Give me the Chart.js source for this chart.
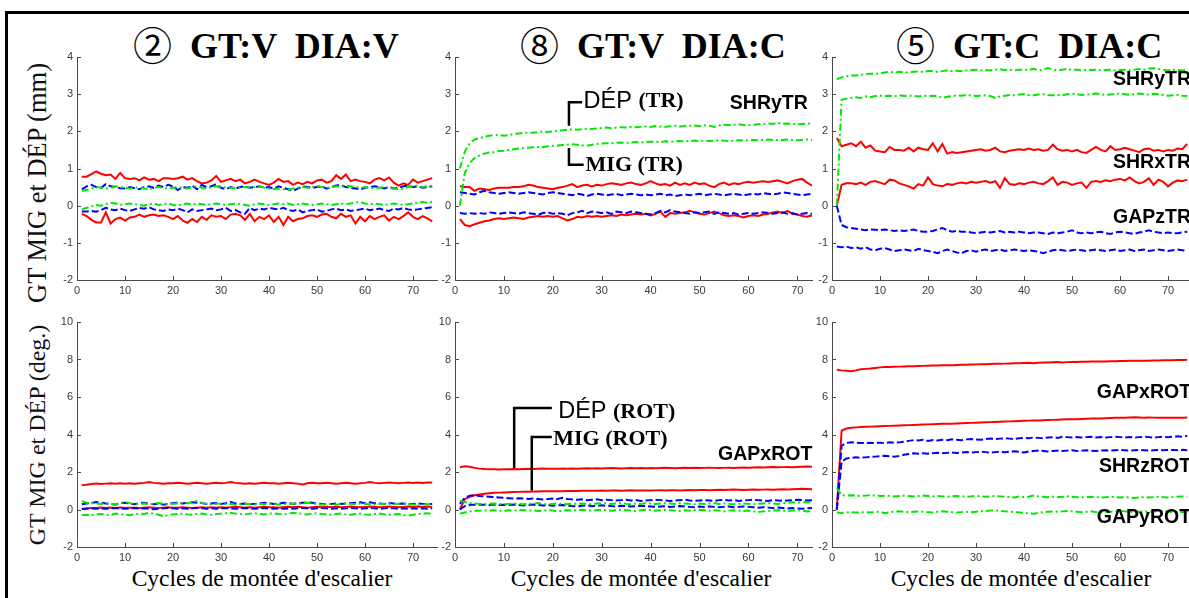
<!DOCTYPE html>
<html>
<head>
<meta charset="utf-8">
<script src="https://cdn.jsdelivr.net/npm/chart.js@4.4.1/dist/chart.umd.min.js"></script>
<style>
  body { margin:0; width:1189px; height:598px; overflow:hidden; background:#fff; position:relative; }
  .frame { position:absolute; left:5px; top:11px; width:1300px; height:700px; border-left:3px solid #000; border-top:3px solid #000; }
  canvas { position:absolute; }
  .title { position:absolute; font:bold 36px "Liberation Serif", "Times New Roman", serif; line-height:36px; white-space:pre; color:#000; }
  .title .circ { display:inline-block; width:57px; font-weight:normal; font-family:"Noto Sans CJK JP", "DejaVu Sans", sans-serif; font-size:39px; vertical-align:-2px; }
  .xlab { position:absolute; transform:translateX(-50%); font:23.5px "Liberation Serif", "Times New Roman", serif; line-height:23.5px; white-space:pre; color:#000; }
  .ylab { position:absolute; transform:translate(-50%,-50%) rotate(-90deg); font:26.5px "Liberation Serif", "Times New Roman", serif; line-height:26px; white-space:pre; color:#111; }
</style>
</head>
<body>
<div class="frame"></div>
<div class="title" style="left:133px; top:25px;"><span class="circ">②</span>GT:V  DIA:V</div>
<div class="title" style="left:520px; top:25px;"><span class="circ">⑧</span>GT:V  DIA:C</div>
<div class="title" style="left:896px; top:25px;"><span class="circ">⑤</span>GT:C  DIA:C</div>
<div class="ylab" style="left:37px; top:183px;">GT MIG et DÉP (mm)</div>
<div class="ylab" style="left:37px; top:435px; font-size:24px;">GT MIG et DÉP (deg.)</div>
<div class="xlab" style="left:262px; top:567px;">Cycles de montée d'escalier</div>
<div class="xlab" style="left:641px; top:567px;">Cycles de montée d'escalier</div>
<div class="xlab" style="left:1021px; top:567px;">Cycles de montée d'escalier</div>

<script>
// stair-climbing cycles 1..74
const cycles = Array.from({length: 74}, (_, i) => i + 1);
const xTicks = [0, 10, 20, 30, 40, 50, 60, 70];
const yTicksTR = [-2, -1, 0, 1, 2, 3, 4];
const yTicksROT = [-2, 0, 2, 4, 6, 8, 10];

// ---- panel 2 (GT:V DIA:V), translations (mm)
const vvTrRedA = [0.78,0.78,0.85,0.92,0.86,0.82,0.84,0.72,0.88,0.74,
  0.72,0.74,0.68,0.76,0.70,0.72,0.66,0.74,0.74,0.72,
  0.74,0.78,0.70,0.74,0.66,0.60,0.62,0.68,0.80,0.64,
  0.68,0.72,0.66,0.70,0.60,0.64,0.70,0.64,0.60,0.56,
  0.62,0.72,0.64,0.66,0.56,0.62,0.58,0.64,0.60,0.68,
  0.70,0.62,0.66,0.82,0.72,0.84,0.66,0.70,0.66,0.64,
  0.60,0.70,0.74,0.68,0.76,0.62,0.54,0.60,0.56,0.70,
  0.62,0.66,0.70,0.74];
const vvTrRedB = [-0.22,-0.28,-0.38,-0.45,-0.45,-0.18,-0.48,-0.36,-0.32,-0.40,
  -0.32,-0.30,-0.24,-0.30,-0.26,-0.24,-0.28,-0.26,-0.30,-0.36,
  -0.28,-0.40,-0.46,-0.36,-0.44,-0.30,-0.38,-0.26,-0.30,-0.28,
  -0.36,-0.24,-0.22,-0.26,-0.38,-0.22,-0.42,-0.30,-0.36,-0.26,
  -0.44,-0.30,-0.52,-0.30,-0.42,-0.36,-0.34,-0.28,-0.26,-0.30,
  -0.24,-0.22,-0.30,-0.34,-0.22,-0.30,-0.26,-0.48,-0.30,-0.42,
  -0.28,-0.36,-0.30,-0.26,-0.40,-0.30,-0.36,-0.28,-0.18,-0.30,
  -0.36,-0.28,-0.34,-0.42];
const vvTrBlueA = [0.44,0.52,0.56,0.50,0.48,0.58,0.52,0.50,0.47,0.46,
  0.50,0.47,0.44,0.50,0.52,0.48,0.54,0.50,0.56,0.52,
  0.42,0.50,0.48,0.54,0.44,0.56,0.50,0.52,0.58,0.48,
  0.44,0.50,0.46,0.50,0.52,0.48,0.50,0.52,0.48,0.50,
  0.46,0.52,0.48,0.44,0.40,0.46,0.52,0.50,0.48,0.50,
  0.52,0.46,0.50,0.54,0.56,0.50,0.48,0.46,0.44,0.48,
  0.50,0.52,0.50,0.46,0.50,0.46,0.48,0.52,0.54,0.50,
  0.52,0.48,0.50,0.52];
const vvTrBlueB = [-0.16,-0.16,-0.14,-0.16,-0.12,-0.06,-0.10,-0.12,-0.08,-0.12,
  -0.14,-0.10,-0.06,-0.08,-0.04,-0.10,-0.12,-0.14,-0.10,-0.12,
  -0.08,-0.12,-0.18,-0.10,-0.14,-0.12,-0.10,-0.08,-0.12,-0.10,
  -0.06,-0.14,-0.12,-0.18,-0.22,-0.06,-0.12,-0.08,-0.10,-0.06,
  -0.08,-0.10,-0.06,-0.12,-0.14,-0.10,-0.18,-0.14,-0.12,-0.10,
  -0.16,-0.14,-0.10,-0.08,-0.12,-0.10,-0.14,-0.12,-0.10,-0.08,
  -0.12,-0.10,-0.08,-0.12,-0.14,-0.08,-0.10,-0.06,-0.10,-0.12,
  -0.10,-0.08,-0.06,-0.04];
const vvTrGreenA = [0.40,0.42,0.46,0.50,0.48,0.46,0.48,0.52,0.50,0.48,
  0.46,0.48,0.50,0.46,0.44,0.48,0.50,0.48,0.46,0.48,
  0.50,0.48,0.46,0.50,0.52,0.48,0.46,0.50,0.52,0.48,
  0.50,0.48,0.46,0.48,0.50,0.48,0.50,0.52,0.48,0.46,
  0.44,0.46,0.44,0.42,0.46,0.48,0.50,0.48,0.50,0.52,
  0.50,0.48,0.50,0.52,0.50,0.54,0.52,0.50,0.48,0.50,
  0.48,0.46,0.48,0.50,0.48,0.46,0.44,0.46,0.50,0.52,
  0.54,0.50,0.52,0.50];
const vvTrGreenB = [-0.10,-0.06,-0.02,0.02,0.00,0.04,0.08,0.06,0.02,0.04,
  0.06,0.04,0.02,0.00,0.04,0.06,0.02,0.04,0.06,0.02,
  0.00,0.04,0.06,0.02,0.06,0.04,0.02,0.04,0.06,0.04,
  0.02,0.04,0.06,0.04,0.02,0.00,0.04,0.06,0.04,0.02,
  0.04,0.06,0.04,0.06,0.02,0.04,0.06,0.04,0.02,0.04,
  0.06,0.04,0.02,0.04,0.06,0.04,0.06,0.08,0.10,0.06,
  0.04,0.06,0.04,0.02,0.04,0.06,0.04,0.02,0.04,0.06,
  0.08,0.10,0.08,0.10];

// ---- panel 8 (GT:V DIA:C), translations (mm)
const vcTrRedA = [0.52,0.50,0.50,0.40,0.46,0.44,0.42,0.46,0.48,0.48,
  0.48,0.50,0.50,0.52,0.56,0.54,0.50,0.48,0.46,0.44,
  0.48,0.50,0.54,0.58,0.50,0.54,0.56,0.52,0.56,0.54,
  0.58,0.60,0.58,0.56,0.60,0.62,0.58,0.56,0.60,0.66,
  0.60,0.56,0.58,0.54,0.62,0.56,0.60,0.56,0.62,0.58,
  0.60,0.54,0.50,0.58,0.62,0.56,0.60,0.58,0.62,0.64,
  0.62,0.64,0.66,0.64,0.66,0.68,0.64,0.60,0.66,0.70,
  0.72,0.62,0.54,0.58];
const vcTrRedB = [-0.36,-0.52,-0.55,-0.50,-0.46,-0.42,-0.40,-0.36,-0.34,-0.36,
  -0.34,-0.32,-0.34,-0.36,-0.32,-0.30,-0.28,-0.30,-0.28,-0.30,
  -0.28,-0.34,-0.40,-0.36,-0.30,-0.32,-0.28,-0.30,-0.28,-0.30,
  -0.28,-0.26,-0.28,-0.24,-0.26,-0.24,-0.22,-0.24,-0.22,-0.26,
  -0.22,-0.16,-0.30,-0.20,-0.22,-0.20,-0.18,-0.14,-0.18,-0.22,
  -0.24,-0.20,-0.16,-0.20,-0.26,-0.28,-0.26,-0.28,-0.32,-0.28,
  -0.26,-0.28,-0.24,-0.22,-0.18,-0.16,-0.20,-0.14,-0.22,-0.24,
  -0.28,-0.30,-0.26,-0.24];
const vcTrBlueA = [0.36,0.34,0.32,0.30,0.36,0.40,0.36,0.34,0.32,0.34,
  0.36,0.34,0.32,0.34,0.36,0.34,0.32,0.30,0.34,0.36,
  0.34,0.32,0.30,0.28,0.32,0.30,0.26,0.30,0.32,0.30,
  0.28,0.30,0.32,0.28,0.30,0.32,0.30,0.28,0.30,0.28,
  0.30,0.32,0.28,0.30,0.26,0.28,0.30,0.28,0.30,0.32,
  0.28,0.30,0.32,0.30,0.28,0.30,0.32,0.30,0.28,0.30,
  0.32,0.30,0.34,0.32,0.30,0.32,0.36,0.34,0.32,0.30,
  0.28,0.30,0.32,0.30];
const vcTrBlueB = [-0.20,-0.22,-0.20,-0.22,-0.20,-0.22,-0.18,-0.20,-0.22,-0.20,
  -0.18,-0.20,-0.22,-0.18,-0.20,-0.22,-0.24,-0.20,-0.18,-0.22,
  -0.20,-0.22,-0.26,-0.20,-0.18,-0.14,-0.20,-0.16,-0.18,-0.20,
  -0.18,-0.22,-0.16,-0.18,-0.20,-0.16,-0.18,-0.20,-0.22,-0.24,
  -0.20,-0.14,-0.18,-0.12,-0.16,-0.18,-0.20,-0.22,-0.18,-0.20,
  -0.18,-0.16,-0.22,-0.18,-0.20,-0.22,-0.20,-0.24,-0.22,-0.20,
  -0.22,-0.20,-0.18,-0.20,-0.22,-0.20,-0.18,-0.22,-0.20,-0.24,
  -0.22,-0.20,-0.22,-0.20];
const vcTrGreenA = [1.00,1.45,1.68,1.78,1.82,1.85,1.88,1.90,1.90,1.88,
  1.90,1.93,1.94,1.96,1.97,1.96,1.98,2.00,1.98,2.00,
  2.02,2.03,2.04,2.06,2.04,2.06,2.07,2.06,2.08,2.09,
  2.10,2.08,2.10,2.11,2.10,2.12,2.11,2.12,2.13,2.12,
  2.14,2.13,2.12,2.14,2.15,2.13,2.14,2.15,2.16,2.14,
  2.16,2.15,2.12,2.16,2.18,2.17,2.18,2.19,2.17,2.16,
  2.18,2.19,2.20,2.21,2.20,2.23,2.20,2.21,2.20,2.19,
  2.20,2.21,2.20,2.19];
const vcTrGreenB = [0.00,0.88,1.15,1.28,1.35,1.40,1.43,1.44,1.47,1.48,
  1.50,1.52,1.54,1.55,1.56,1.57,1.58,1.58,1.60,1.61,
  1.62,1.63,1.64,1.65,1.64,1.62,1.61,1.64,1.66,1.67,
  1.68,1.68,1.69,1.70,1.69,1.70,1.71,1.70,1.71,1.72,
  1.72,1.71,1.73,1.72,1.73,1.74,1.73,1.74,1.75,1.74,
  1.75,1.74,1.75,1.76,1.75,1.74,1.75,1.76,1.75,1.76,
  1.77,1.76,1.77,1.78,1.77,1.76,1.77,1.78,1.77,1.76,
  1.77,1.78,1.77,1.78];

// ---- panel 5 (GT:C DIA:C), translations (mm)
const ccTrRedA = [1.82,1.60,1.64,1.68,1.60,1.72,1.56,1.62,1.48,1.46,
  1.44,1.58,1.50,1.50,1.48,1.56,1.46,1.56,1.52,1.50,
  1.68,1.46,1.66,1.40,1.44,1.42,1.44,1.46,1.48,1.50,
  1.52,1.48,1.50,1.56,1.46,1.44,1.48,1.50,1.52,1.50,
  1.54,1.50,1.52,1.48,1.50,1.64,1.52,1.48,1.50,1.46,
  1.50,1.44,1.42,1.50,1.58,1.50,1.46,1.60,1.50,1.52,
  1.56,1.52,1.48,1.44,1.52,1.54,1.48,1.50,1.46,1.50,
  1.48,1.54,1.52,1.66];
const ccTrRedB = [0.00,0.56,0.60,0.60,0.58,0.62,0.56,0.64,0.66,0.62,
  0.58,0.70,0.68,0.60,0.56,0.52,0.46,0.58,0.54,0.76,
  0.58,0.54,0.52,0.58,0.56,0.60,0.62,0.60,0.64,0.62,
  0.64,0.66,0.62,0.66,0.48,0.74,0.58,0.56,0.60,0.58,
  0.62,0.64,0.60,0.58,0.66,0.76,0.56,0.64,0.62,0.56,
  0.60,0.62,0.48,0.64,0.66,0.64,0.68,0.66,0.70,0.72,
  0.68,0.76,0.66,0.60,0.64,0.74,0.56,0.70,0.64,0.52,
  0.62,0.68,0.66,0.70];
const ccTrBlueA = [0.00,-0.52,-0.58,-0.60,-0.62,-0.64,-0.66,-0.64,-0.65,-0.66,
  -0.64,-0.66,-0.68,-0.66,-0.68,-0.66,-0.64,-0.68,-0.70,-0.70,
  -0.68,-0.64,-0.60,-0.66,-0.70,-0.68,-0.70,-0.70,-0.72,-0.74,
  -0.72,-0.70,-0.72,-0.70,-0.68,-0.72,-0.70,-0.72,-0.70,-0.72,
  -0.74,-0.72,-0.72,-0.74,-0.76,-0.72,-0.74,-0.72,-0.70,-0.66,
  -0.72,-0.74,-0.72,-0.74,-0.72,-0.70,-0.74,-0.76,-0.72,-0.70,
  -0.72,-0.74,-0.76,-0.72,-0.70,-0.66,-0.70,-0.72,-0.74,-0.72,
  -0.74,-0.74,-0.72,-0.70];
const ccTrBlueB = [-1.10,-1.12,-1.10,-1.14,-1.12,-1.16,-1.12,-1.18,-1.20,-1.16,
  -1.14,-1.18,-1.22,-1.20,-1.18,-1.20,-1.22,-1.16,-1.20,-1.22,
  -1.24,-1.28,-1.22,-1.18,-1.22,-1.26,-1.28,-1.22,-1.20,-1.24,
  -1.20,-1.18,-1.22,-1.20,-1.18,-1.22,-1.20,-1.18,-1.20,-1.22,
  -1.20,-1.22,-1.24,-1.28,-1.24,-1.20,-1.18,-1.20,-1.22,-1.20,
  -1.18,-1.20,-1.22,-1.20,-1.18,-1.20,-1.22,-1.20,-1.18,-1.22,
  -1.20,-1.18,-1.22,-1.20,-1.18,-1.22,-1.20,-1.18,-1.20,-1.22,
  -1.20,-1.18,-1.20,-1.22];
const ccTrGreenA = [3.40,3.45,3.48,3.50,3.50,3.52,3.54,3.55,3.55,3.56,
  3.58,3.60,3.58,3.60,3.59,3.58,3.60,3.61,3.60,3.62,
  3.62,3.60,3.62,3.64,3.62,3.63,3.62,3.64,3.65,3.66,
  3.64,3.65,3.64,3.66,3.67,3.65,3.66,3.64,3.66,3.65,
  3.66,3.68,3.64,3.66,3.70,3.66,3.65,3.66,3.68,3.65,
  3.66,3.64,3.66,3.65,3.66,3.64,3.65,3.66,3.64,3.65,
  3.66,3.64,3.66,3.68,3.66,3.69,3.70,3.68,3.66,3.64,
  3.66,3.65,3.64,3.66];
const ccTrGreenB = [0.00,2.85,2.88,2.90,2.92,2.90,2.94,2.92,2.95,2.96,
  2.95,2.96,2.94,2.97,2.95,2.96,2.95,2.94,2.96,2.95,
  2.96,2.95,2.90,2.93,2.95,2.97,2.96,2.98,2.96,2.95,
  2.96,2.97,2.95,2.90,2.94,2.96,2.98,2.97,2.99,3.00,
  2.98,2.97,2.99,3.00,2.98,2.97,2.98,2.97,3.00,3.01,
  3.00,2.98,2.99,3.00,3.02,3.00,2.98,2.99,3.00,3.02,
  3.00,2.98,3.00,3.02,3.00,2.99,3.01,3.00,2.98,2.96,
  2.97,2.98,2.96,2.95];

// ---- panel 2 (GT:V DIA:V), rotations (deg)
const vvRotRedA = [1.30,1.32,1.36,1.38,1.36,1.38,1.40,1.38,1.40,1.38,
  1.40,1.38,1.40,1.42,1.46,1.42,1.40,1.38,1.40,1.40,
  1.42,1.40,1.38,1.40,1.42,1.40,1.38,1.40,1.42,1.40,
  1.42,1.46,1.42,1.40,1.38,1.40,1.38,1.40,1.42,1.40,
  1.40,1.38,1.40,1.42,1.40,1.38,1.34,1.40,1.42,1.40,
  1.40,1.42,1.40,1.38,1.40,1.42,1.40,1.38,1.40,1.42,
  1.46,1.42,1.40,1.42,1.44,1.42,1.40,1.42,1.44,1.42,
  1.44,1.42,1.44,1.44];
const vvRotRedB = [0.04,0.06,0.08,0.08,0.10,0.08,0.10,0.08,0.10,0.08,
  0.10,0.10,0.08,0.10,0.12,0.10,0.08,0.10,0.12,0.10,
  0.10,0.12,0.10,0.08,0.10,0.12,0.10,0.12,0.10,0.12,
  0.10,0.12,0.14,0.12,0.10,0.12,0.10,0.12,0.14,0.12,
  0.12,0.10,0.12,0.14,0.12,0.14,0.12,0.10,0.12,0.14,
  0.12,0.14,0.12,0.14,0.12,0.14,0.16,0.14,0.12,0.14,
  0.16,0.14,0.12,0.14,0.16,0.14,0.12,0.14,0.16,0.14,
  0.16,0.14,0.16,0.14];
const vvRotBlueA = [0.28,0.32,0.34,0.40,0.36,0.32,0.30,0.26,0.34,0.36,
  0.32,0.28,0.34,0.36,0.30,0.28,0.32,0.26,0.30,0.34,
  0.36,0.32,0.36,0.38,0.36,0.34,0.30,0.32,0.34,0.30,
  0.34,0.40,0.32,0.30,0.32,0.28,0.30,0.32,0.36,0.34,
  0.30,0.32,0.36,0.34,0.30,0.34,0.36,0.38,0.36,0.32,
  0.30,0.28,0.30,0.32,0.30,0.32,0.34,0.36,0.38,0.34,
  0.38,0.34,0.32,0.30,0.34,0.32,0.30,0.32,0.28,0.30,
  0.32,0.30,0.28,0.30];
const vvRotBlueB = [0.02,0.04,0.06,0.04,0.06,0.04,0.06,0.08,0.06,0.04,
  0.06,0.08,0.04,0.06,0.04,0.02,0.04,0.06,0.08,0.06,
  0.04,0.06,0.04,0.06,0.08,0.06,0.04,0.06,0.04,0.06,
  0.08,0.06,0.04,0.06,0.08,0.06,0.04,0.06,0.08,0.06,
  0.04,0.06,0.04,0.06,0.04,0.06,0.08,0.06,0.04,0.06,
  0.08,0.06,0.04,0.06,0.04,0.06,0.08,0.06,0.04,0.06,
  0.08,0.06,0.04,0.06,0.08,0.06,0.04,0.06,0.04,0.06,
  0.04,0.06,0.04,0.06];
const vvRotGreenA = [0.44,0.36,0.34,0.32,0.30,0.34,0.30,0.28,0.32,0.40,
  0.34,0.28,0.30,0.32,0.28,0.30,0.34,0.30,0.26,0.30,
  0.32,0.36,0.34,0.38,0.46,0.34,0.30,0.28,0.30,0.32,
  0.28,0.30,0.26,0.28,0.30,0.28,0.26,0.30,0.28,0.32,
  0.30,0.26,0.28,0.30,0.32,0.30,0.34,0.36,0.32,0.28,
  0.26,0.28,0.30,0.26,0.28,0.32,0.30,0.28,0.32,0.30,
  0.28,0.26,0.30,0.28,0.32,0.28,0.30,0.32,0.28,0.26,
  0.24,0.26,0.28,0.30];
const vvRotGreenB = [-0.30,-0.28,-0.30,-0.26,-0.24,-0.28,-0.30,-0.22,-0.26,-0.28,
  -0.30,-0.26,-0.22,-0.24,-0.18,-0.22,-0.28,-0.36,-0.30,-0.26,
  -0.24,-0.22,-0.26,-0.28,-0.24,-0.22,-0.26,-0.28,-0.24,-0.22,
  -0.20,-0.18,-0.22,-0.24,-0.26,-0.22,-0.20,-0.24,-0.26,-0.22,
  -0.20,-0.24,-0.26,-0.22,-0.18,-0.20,-0.24,-0.26,-0.22,-0.20,
  -0.24,-0.26,-0.28,-0.24,-0.22,-0.26,-0.28,-0.24,-0.22,-0.26,
  -0.28,-0.24,-0.22,-0.26,-0.28,-0.26,-0.24,-0.30,-0.32,-0.28,
  -0.24,-0.22,-0.20,-0.24];

// ---- panel 8 (GT:V DIA:C), rotations (deg)
const vcRotRedA = [2.25,2.30,2.28,2.22,2.18,2.16,2.15,2.15,2.14,2.15,
  2.15,2.16,2.15,2.16,2.17,2.16,2.17,2.18,2.17,2.18,
  2.18,2.19,2.18,2.19,2.18,2.19,2.20,2.19,2.20,2.19,
  2.20,2.21,2.20,2.19,2.20,2.21,2.20,2.21,2.20,2.21,
  2.20,2.21,2.22,2.21,2.20,2.21,2.22,2.21,2.22,2.21,
  2.22,2.23,2.22,2.21,2.22,2.23,2.22,2.23,2.24,2.23,
  2.24,2.25,2.24,2.25,2.26,2.25,2.26,2.27,2.26,2.27,
  2.28,2.29,2.28,2.29];
const vcRotRedB = [0.00,0.55,0.68,0.76,0.80,0.84,0.87,0.89,0.90,0.91,
  0.92,0.93,0.94,0.95,0.95,0.96,0.96,0.97,0.97,0.98,
  0.98,0.98,0.99,0.99,0.99,1.00,1.00,1.00,1.00,1.01,
  1.00,1.01,1.01,1.00,1.01,1.02,1.01,1.02,1.02,1.01,
  1.02,1.03,1.02,1.03,1.03,1.02,1.03,1.04,1.03,1.04,
  1.04,1.03,1.04,1.05,1.04,1.05,1.06,1.05,1.04,1.05,
  1.06,1.05,1.06,1.07,1.06,1.07,1.08,1.07,1.08,1.09,
  1.10,1.09,1.08,1.07];
const vcRotBlueA = [0.30,0.62,0.74,0.76,0.72,0.70,0.68,0.66,0.64,0.62,
  0.60,0.58,0.60,0.58,0.56,0.58,0.56,0.54,0.56,0.58,
  0.56,0.62,0.56,0.54,0.52,0.54,0.50,0.52,0.54,0.50,
  0.52,0.50,0.48,0.50,0.52,0.48,0.50,0.46,0.48,0.50,
  0.52,0.50,0.48,0.46,0.48,0.50,0.52,0.48,0.46,0.48,
  0.50,0.48,0.46,0.50,0.52,0.48,0.50,0.46,0.48,0.50,
  0.52,0.50,0.48,0.46,0.50,0.48,0.46,0.48,0.50,0.52,
  0.50,0.48,0.50,0.52];
const vcRotBlueB = [0.00,0.18,0.24,0.26,0.26,0.25,0.24,0.26,0.24,0.25,
  0.24,0.26,0.24,0.22,0.24,0.26,0.24,0.22,0.24,0.20,
  0.22,0.24,0.20,0.18,0.16,0.20,0.22,0.18,0.20,0.22,
  0.20,0.18,0.16,0.20,0.18,0.16,0.18,0.20,0.18,0.16,
  0.14,0.16,0.18,0.14,0.16,0.18,0.16,0.14,0.12,0.16,
  0.14,0.16,0.14,0.12,0.14,0.16,0.12,0.14,0.16,0.14,
  0.12,0.10,0.12,0.10,0.08,0.10,0.08,0.06,0.08,0.06,
  0.04,0.06,0.08,0.10];
const vcRotGreenA = [0.46,0.40,0.34,0.32,0.30,0.28,0.30,0.32,0.30,0.28,
  0.30,0.32,0.30,0.28,0.30,0.32,0.34,0.30,0.28,0.30,
  0.32,0.30,0.28,0.32,0.30,0.32,0.30,0.28,0.32,0.34,
  0.32,0.30,0.32,0.34,0.30,0.28,0.32,0.30,0.34,0.32,
  0.30,0.32,0.34,0.32,0.30,0.34,0.32,0.30,0.28,0.32,
  0.30,0.32,0.34,0.30,0.32,0.30,0.28,0.30,0.32,0.30,
  0.28,0.30,0.32,0.34,0.32,0.30,0.34,0.36,0.38,0.36,
  0.38,0.40,0.38,0.40];
const vcRotGreenB = [-0.22,-0.16,-0.10,-0.08,-0.06,-0.04,-0.06,-0.04,-0.06,-0.08,
  -0.04,-0.06,-0.02,-0.04,-0.06,-0.04,-0.08,-0.06,-0.04,-0.06,
  -0.10,-0.06,-0.04,-0.06,-0.04,-0.02,-0.04,-0.06,-0.04,-0.02,
  -0.04,-0.06,-0.04,-0.02,-0.04,-0.06,-0.08,-0.04,-0.02,-0.04,
  -0.06,-0.04,-0.02,-0.04,-0.06,-0.08,-0.04,-0.06,-0.04,-0.02,
  -0.04,-0.06,-0.04,-0.06,-0.10,-0.06,-0.04,-0.06,-0.08,-0.06,
  -0.10,-0.14,-0.10,-0.08,-0.06,-0.04,-0.06,-0.08,-0.06,-0.04,
  -0.06,-0.10,-0.08,-0.06];

// ---- panel 5 (GT:C DIA:C), rotations (deg)
const ccRotRedA = [7.45,7.42,7.40,7.38,7.42,7.48,7.50,7.52,7.55,7.58,
  7.60,7.60,7.61,7.62,7.63,7.64,7.64,7.65,7.66,7.67,
  7.68,7.68,7.69,7.70,7.70,7.71,7.72,7.72,7.73,7.74,
  7.75,7.75,7.76,7.77,7.77,7.78,7.79,7.80,7.80,7.81,
  7.82,7.80,7.83,7.84,7.84,7.85,7.86,7.84,7.86,7.87,
  7.87,7.88,7.88,7.89,7.89,7.90,7.90,7.91,7.91,7.92,
  7.92,7.93,7.93,7.94,7.94,7.94,7.95,7.95,7.96,7.96,
  7.96,7.97,7.97,7.98];
const ccRotRedB = [0.00,4.20,4.32,4.36,4.38,4.40,4.41,4.42,4.43,4.44,
  4.45,4.46,4.47,4.48,4.49,4.50,4.51,4.52,4.53,4.54,
  4.55,4.56,4.57,4.58,4.58,4.59,4.60,4.61,4.62,4.63,
  4.64,4.65,4.66,4.67,4.68,4.69,4.70,4.71,4.72,4.73,
  4.74,4.75,4.75,4.76,4.77,4.78,4.79,4.80,4.81,4.82,
  4.82,4.83,4.84,4.85,4.86,4.86,4.87,4.88,4.89,4.90,
  4.90,4.91,4.92,4.91,4.90,4.91,4.90,4.89,4.90,4.90,
  4.89,4.90,4.90,4.91];
const ccRotBlueA = [0.00,3.40,3.55,3.58,3.56,3.55,3.54,3.56,3.55,3.56,
  3.55,3.58,3.56,3.58,3.62,3.66,3.70,3.68,3.72,3.66,
  3.70,3.68,3.72,3.70,3.74,3.72,3.70,3.74,3.76,3.74,
  3.72,3.76,3.78,3.76,3.78,3.80,3.78,3.76,3.80,3.82,
  3.80,3.84,3.82,3.80,3.84,3.86,3.82,3.88,3.86,3.84,
  3.86,3.84,3.86,3.88,3.84,3.86,3.84,3.86,3.88,3.86,
  3.84,3.86,3.84,3.86,3.88,3.86,3.84,3.86,3.88,3.86,
  3.88,3.90,3.88,3.92];
const ccRotBlueB = [0.00,2.55,2.72,2.76,2.78,2.76,2.78,2.80,2.82,2.84,
  2.86,2.84,2.82,2.86,2.92,2.96,3.00,2.98,3.00,2.98,
  3.00,3.02,3.00,3.02,3.04,3.02,3.04,3.06,3.04,3.06,
  3.08,3.06,3.04,3.06,3.08,3.06,3.08,3.10,3.08,3.04,
  3.10,3.12,3.14,3.12,3.10,3.12,3.14,3.12,3.14,3.16,
  3.12,3.14,3.16,3.14,3.12,3.14,3.16,3.14,3.16,3.18,
  3.16,3.14,3.16,3.18,3.16,3.14,3.16,3.18,3.16,3.18,
  3.18,3.16,3.18,3.16];
const ccRotGreenA = [1.15,0.76,0.74,0.76,0.74,0.72,0.74,0.76,0.74,0.72,
  0.74,0.72,0.70,0.72,0.74,0.72,0.70,0.72,0.74,0.72,
  0.70,0.72,0.70,0.68,0.70,0.72,0.70,0.68,0.70,0.72,
  0.70,0.68,0.70,0.72,0.70,0.68,0.66,0.64,0.70,0.66,
  0.68,0.74,0.70,0.68,0.66,0.68,0.66,0.68,0.70,0.68,
  0.66,0.64,0.66,0.68,0.66,0.64,0.66,0.68,0.66,0.64,
  0.66,0.64,0.62,0.64,0.66,0.64,0.66,0.68,0.66,0.64,
  0.66,0.68,0.70,0.70];
const ccRotGreenB = [-0.16,-0.18,-0.16,-0.14,-0.16,-0.15,-0.14,-0.16,-0.14,-0.12,
  -0.20,-0.14,-0.12,-0.10,-0.12,-0.14,-0.12,-0.10,-0.12,-0.14,
  -0.16,-0.12,-0.10,-0.12,-0.14,-0.16,-0.14,-0.12,-0.14,-0.12,
  -0.10,-0.08,-0.06,-0.04,-0.08,-0.10,-0.12,-0.14,-0.16,-0.18,
  -0.20,-0.22,-0.18,-0.14,-0.12,-0.10,-0.12,-0.10,-0.08,-0.10,
  -0.12,-0.14,-0.12,-0.10,-0.14,-0.16,-0.14,-0.12,-0.10,-0.08,
  -0.10,-0.12,-0.14,-0.12,-0.10,-0.12,-0.10,-0.08,-0.10,-0.12,
  -0.14,-0.12,-0.14,-0.16];

// ---- layout of the six axes (plot-area corners in page pixels)
const COLS = [{left: 77, width: 360, xMax: 75}, {left: 455, width: 357, xMax: 73}, {left: 832, width: 360, xMax: 75}];
const ROWS = [{top: 57, bottom: 280}, {top: 322, bottom: 547}];
const PAD_L = 40, PAD_T = 12, PAD_R = 12, PAD_B = 26;

const RED = '#ff0000', BLUE = '#0000ff', GREEN = '#00e800';
const AXIS = '#4a4a4a';
const TICK_FONT = {family: 'Arial, "Liberation Sans", sans-serif', size: 11};
const LABEL_BOLD = 'bold 19.5px Arial, "Liberation Sans", sans-serif';
const SANS = '23.5px Arial, "Liberation Sans", sans-serif';
const SERIF_BOLD = 'bold 22px "Liberation Serif", "Times New Roman", serif';

function series(values, color, dash) {
  return {
    data: values.map((v, i) => ({x: cycles[i], y: v})),
    borderColor: color,
    borderWidth: 2,
    borderDash: dash,
    pointRadius: 0,
    tension: 0,
    fill: false
  };
}
function sixLines(r1, r2, b1, b2, g1, g2) {
  return [
    series(g1, GREEN, [7, 3, 2, 3]), series(g2, GREEN, [7, 3, 2, 3]),
    series(b1, BLUE, [7, 3]), series(b2, BLUE, [7, 3]),
    series(r1, RED, []), series(r2, RED, [])
  ];
}

const panels = [
  {col: 0, row: 0, yTicks: yTicksTR,
   lines: sixLines(vvTrRedA, vvTrRedB, vvTrBlueA, vvTrBlueB, vvTrGreenA, vvTrGreenB), notes: [], brackets: []},
  {col: 1, row: 0, yTicks: yTicksTR,
   lines: sixLines(vcTrRedA, vcTrRedB, vcTrBlueA, vcTrBlueB, vcTrGreenA, vcTrGreenB),
   notes: [
     {x: 56.2, y: 2.74, parts: [['SHRyTR', LABEL_BOLD]]},
     {x: 26.3, y: 2.80, parts: [['DÉP ', SANS], ['(TR)', SERIF_BOLD]]},
     {x: 26.7, y: 1.08, parts: [['MIG (TR)', SERIF_BOLD]]}
   ],
   brackets: [
     [[23.3, 2.15], [23.3, 2.78], [26.0, 2.78]],
     [[23.3, 1.55], [23.3, 1.10], [26.3, 1.10]]
   ]},
  {col: 2, row: 0, yTicks: yTicksTR,
   lines: sixLines(ccTrRedA, ccTrRedB, ccTrBlueA, ccTrBlueB, ccTrGreenA, ccTrGreenB),
   notes: [
     {x: 74.8, y: 3.38, align: 'right', parts: [['SHRyTR', LABEL_BOLD]]},
     {x: 74.8, y: 1.15, align: 'right', parts: [['SHRxTR', LABEL_BOLD]]},
     {x: 74.8, y: -0.33, align: 'right', parts: [['GAPzTR', LABEL_BOLD]]}
   ], brackets: []},
  {col: 0, row: 1, yTicks: yTicksROT,
   lines: sixLines(vvRotRedA, vvRotRedB, vvRotBlueA, vvRotBlueB, vvRotGreenA, vvRotGreenB), notes: [], brackets: []},
  {col: 1, row: 1, yTicks: yTicksROT,
   lines: sixLines(vcRotRedA, vcRotRedB, vcRotBlueA, vcRotBlueB, vcRotGreenA, vcRotGreenB),
   notes: [
     {x: 53.8, y: 2.91, parts: [['GAPxROT', LABEL_BOLD]]},
     {x: 21.1, y: 5.20, parts: [['DÉP ', SANS], ['(ROT)', SERIF_BOLD]]},
     {x: 20.1, y: 3.73, parts: [['MIG (ROT)', SERIF_BOLD]]}
   ],
   brackets: [
     [[12.1, 2.22], [12.1, 5.41], [19.8, 5.41]],
     [[15.7, 1.02], [15.7, 3.87], [19.8, 3.87]]
   ]},
  {col: 2, row: 1, yTicks: yTicksROT,
   lines: sixLines(ccRotRedA, ccRotRedB, ccRotBlueA, ccRotBlueB, ccRotGreenA, ccRotGreenB),
   notes: [
     {x: 74.8, y: 6.21, align: 'right', parts: [['GAPxROT', LABEL_BOLD]]},
     {x: 74.8, y: 2.27, align: 'right', parts: [['SHRzROT', LABEL_BOLD]]},
     {x: 74.8, y: -0.45, align: 'right', parts: [['GAPyROT', LABEL_BOLD]]}
   ], brackets: []}
];

// inward MATLAB-style tick marks, leader brackets and in-plot labels
function decor(p) {
  return {
    id: 'decor',
    afterDraw(chart) {
      const {ctx, chartArea: a, scales: {x, y}} = chart;
      ctx.save();
      ctx.strokeStyle = AXIS;
      ctx.lineWidth = 1;
      ctx.beginPath();
      x.ticks.forEach(t => {
        const px = Math.round(x.getPixelForValue(t.value)) + 0.5;
        ctx.moveTo(px, a.bottom); ctx.lineTo(px, a.bottom - 4);
      });
      y.ticks.forEach(t => {
        const py = Math.round(y.getPixelForValue(t.value)) + 0.5;
        ctx.moveTo(a.left, py); ctx.lineTo(a.left + 4, py);
      });
      ctx.stroke();

      ctx.strokeStyle = '#000';
      ctx.lineWidth = 2.5;
      ctx.lineJoin = 'miter';
      p.brackets.forEach(b => {
        ctx.beginPath();
        b.forEach(([bx, by], i) => {
          const px = x.getPixelForValue(bx), py = y.getPixelForValue(by);
          if (i === 0) ctx.moveTo(px, py); else ctx.lineTo(px, py);
        });
        ctx.stroke();
      });

      ctx.fillStyle = '#000';
      ctx.textBaseline = 'middle';
      p.notes.forEach(n => {
        let total = 0;
        n.parts.forEach(([txt, font]) => { ctx.font = font; total += ctx.measureText(txt).width; });
        let px = x.getPixelForValue(n.x);
        if (n.align === 'right') px -= total;
        const py = y.getPixelForValue(n.y);
        ctx.textAlign = 'left';
        n.parts.forEach(([txt, font]) => {
          ctx.font = font;
          ctx.fillText(txt, px, py);
          px += ctx.measureText(txt).width;
        });
      });
      ctx.restore();
    }
  };
}

panels.forEach(p => {
  const c = COLS[p.col], r = ROWS[p.row];
  const canvas = document.createElement('canvas');
  canvas.width = c.width + PAD_L + PAD_R;
  canvas.height = (r.bottom - r.top) + PAD_T + PAD_B;
  canvas.style.left = (c.left - PAD_L) + 'px';
  canvas.style.top = (r.top - PAD_T) + 'px';
  document.body.appendChild(canvas);

  new Chart(canvas, {
    type: 'line',
    data: {datasets: p.lines},
    options: {
      responsive: false,
      animation: false,
      events: [],
      layout: {autoPadding: false, padding: {left: 0, top: PAD_T, right: PAD_R, bottom: 0}},
      plugins: {legend: {display: false}, tooltip: {enabled: false}},
      scales: {
        x: {
          type: 'linear', min: 0, max: c.xMax,
          afterFit: s => { s.height = PAD_B; },
          afterBuildTicks: s => { s.ticks = xTicks.map(v => ({value: v})); },
          grid: {display: false, drawTicks: false},
          border: {display: true, color: AXIS, width: 1},
          ticks: {font: TICK_FONT, color: '#3a3a3a', padding: 4, maxRotation: 0, autoSkip: false}
        },
        y: {
          type: 'linear', min: p.yTicks[0], max: p.yTicks[p.yTicks.length - 1],
          afterFit: s => { s.width = PAD_L; },
          afterBuildTicks: s => { s.ticks = p.yTicks.map(v => ({value: v})); },
          grid: {display: false, drawTicks: false},
          border: {display: true, color: AXIS, width: 1},
          ticks: {font: TICK_FONT, color: '#3a3a3a', padding: 4, autoSkip: false}
        }
      }
    },
    plugins: [decor(p)]
  });
});
</script>
</body>
</html>
